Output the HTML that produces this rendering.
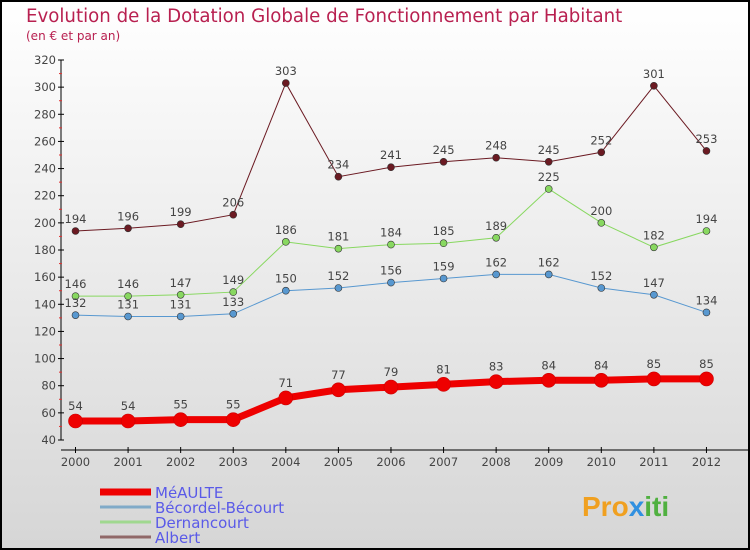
<!DOCTYPE html>
<html><head><meta charset="utf-8"><style>
html,body{margin:0;padding:0}
body{width:750px;height:550px;overflow:hidden;font-family:"DejaVu Sans","Liberation Sans",sans-serif}
#wrap{position:absolute;left:0;top:0;width:746px;height:546px;border:2px solid #000;background:linear-gradient(#ffffff,#d6d6d6)}
</style></head><body>
<div id="wrap"></div>
<svg id="chart" width="750" height="550" style="position:absolute;left:0;top:0">
<text x="26" y="22" font-size="18.2" fill="#b82050" font-family="DejaVu Sans, sans-serif">Evolution de la Dotation Globale de Fonctionnement par Habitant</text>
<text x="26" y="40" font-size="12" fill="#b82050">(en € et par an)</text>
<g id="axes"></g><g id="series"></g><g id="legend"></g>
<text x="582" y="516" font-size="28" font-weight="bold" fill="#f0a020" font-family="Liberation Sans, sans-serif">Pro<tspan fill="#3090e0">x</tspan><tspan fill="#50b040">iti</tspan></text>
</svg>
<script>
const years=[2000,2001,2002,2003,2004,2005,2006,2007,2008,2009,2010,2011,2012];
const meaulte=[54,54,55,55,71,77,79,81,83,84,84,85,85];
const becordel=[132,131,131,133,150,152,156,159,162,162,152,147,134];
const dernancourt=[146,146,147,149,186,181,184,185,189,225,200,182,194];
const albert=[194,196,199,206,303,234,241,245,248,245,252,301,253];
const yTicks=[40,60,80,100,120,140,160,180,200,220,240,260,280,300,320];
const seriesNames=["MéAULTE","Bécordel-Bécourt","Dernancourt","Albert"];
const NS="http://www.w3.org/2000/svg";
const X=i=>75.5+i*52.58;
const Y=v=>440-(v-40)*380/280;
function mk(tag,attrs,parent){const e=document.createElementNS(NS,tag);for(const k in attrs)e.setAttribute(k,attrs[k]);parent.appendChild(e);return e;}
const ax=document.getElementById('axes');
const yl=mk('line',{x1:61,y1:60,x2:61,y2:440,stroke:'#000'},ax);


const xl=mk('line',{x1:61,y1:450,x2:750,y2:450,stroke:'#000'},ax);


yTicks.forEach(v=>{
  mk('line',{x1:58,y1:Y(v),x2:64,y2:Y(v),stroke:'#000'},ax);
  if(v<320) mk('line',{x1:59,y1:Y(v+10),x2:62,y2:Y(v+10),stroke:'#e03030'},ax);
  const t=mk('text',{x:56,y:Y(v)+4,'text-anchor':'end','font-size':11.5,fill:'#444'},ax);
  t.textContent=v;
  
  
});
years.forEach((y,i)=>{
  mk('line',{x1:X(i),y1:447,x2:X(i),y2:453,stroke:'#000'},ax);
  const t=mk('text',{x:X(i),y:466,'text-anchor':'middle','font-size':11.5,fill:'#444'},ax);
  t.textContent=y;
  
  
});
const sg=document.getElementById('series');
const defs=[[albert,'#6b1a22',1,3.5,'albert'],[dernancourt,'#88d860',1,3.5,'dernancourt'],[becordel,'#5898d0',1,3.5,'becordel-becourt'],[meaulte,'#ee0000',7,7,'meaulte']];
defs.forEach(([d,c,w,r,n])=>{
  const g=mk('g',{},sg);
  
  
  mk('polyline',{points:d.map((v,i)=>X(i)+','+Y(v)).join(' '),fill:'none',stroke:c,'stroke-width':w},g);
  d.forEach((v,i)=>{
    const p=mk('circle',{cx:X(i),cy:Y(v),r:r,fill:c,stroke:r>5?'#c00':'#333','stroke-width':0.6},g);
    
    
    const t=mk('text',{x:X(i),y:Y(v)-(r>5?11:8),'text-anchor':'middle','font-size':11.5,fill:'#444'},g);
    t.textContent=v;
    
    
  });
});
const lg=document.getElementById('legend');
const lc=['#ee0000','#80aac8','#a0d890','#906868'],lw=[7,3,3,3];
seriesNames.forEach((n,i)=>{
  const y=492+i*15;
  const g=mk('g',{},lg);
  
  
  mk('line',{x1:100,y1:y,x2:151,y2:y,stroke:lc[i],'stroke-width':lw[i]},g);
  const t=mk('text',{x:155,y:y+6,'font-size':15,fill:'#5a5ae8'},g);
  t.textContent=n;
});
</script>
</body></html>
